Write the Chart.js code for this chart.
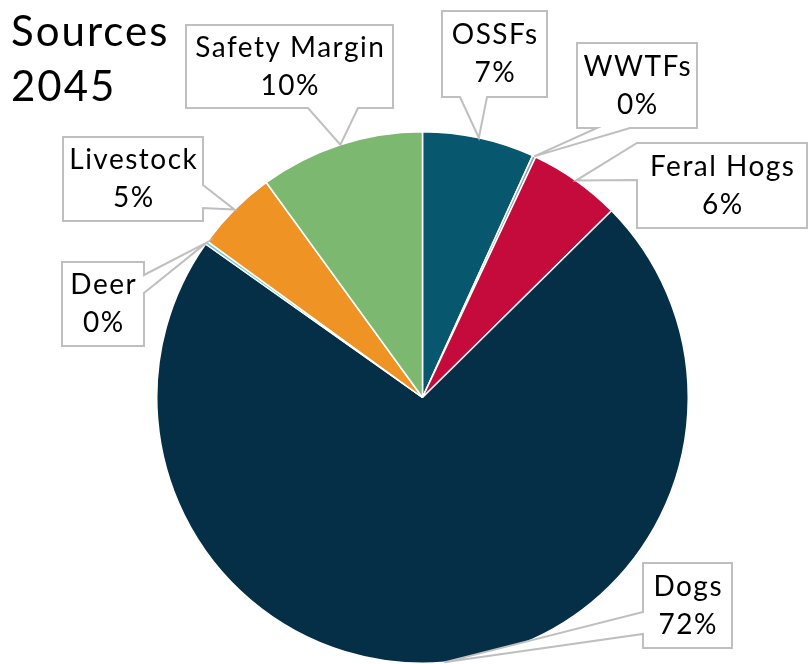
<!DOCTYPE html>
<html>
<head>
<meta charset="utf-8">
<title>Sources 2045</title>
<script src="https://cdn.jsdelivr.net/npm/chart.js@4.4.1/dist/chart.umd.min.js"></script>
<style>
    html, body { margin: 0; padding: 0; background: #ffffff; }
    #wrap { position: relative; width: 809px; height: 664px; }
</style>
</head>
<body>
<div id="wrap"><canvas id="sourcesChart" width="809" height="664"></canvas></div>
<script>
// Source shares for 2045 (percent of total load)
const sourceLabels = ['OSSFs', 'WWTFs', 'Feral Hogs', 'Dogs', 'Deer', 'Livestock', 'Safety Margin'];
const sourceShares = [6.8, 0.2, 5.6, 72.2, 0.2, 5.0, 10.0];
const sourceColors = ['#07576f', '#8fa3ad', '#c40b3b', '#042f47', '#6fcfd3', '#ee9324', '#7cb86f'];

// Callout boxes: box rect plus the side and span where the pointer leaves it
const callouts = [
    { x: 442, y: 11,  w: 105, h: 86, side: 'bottom', a: 460, b: 487 }, // OSSFs
    { x: 577, y: 43,  w: 120, h: 85, side: 'bottom', a: 597, b: 630 }, // WWTFs
    { x: 637, y: 143, w: 170, h: 85, side: 'left',   a: 143, b: 180 }, // Feral Hogs
    { x: 643, y: 563, w: 89,  h: 85, side: 'left',   a: 612, b: 634 }, // Dogs
    { x: 62,  y: 262, w: 82,  h: 84, side: 'right',  a: 275, b: 293 }, // Deer
    { x: 63,  y: 137, w: 140, h: 84, side: 'right',  a: 185, b: 208 }, // Livestock
    { x: 186, y: 25,  w: 207, h: 83, side: 'bottom', a: 308, b: 358 }  // Safety Margin
];

const FONT = 'Lato, "Open Sans", sans-serif';

function calloutPath(ctx, box, tip) {
    const { x, y, w, h, side, a, b } = box;
    ctx.beginPath();
    ctx.moveTo(x, y);
    ctx.lineTo(x + w, y);
    if (side === 'right') {
        ctx.lineTo(x + w, a);
        ctx.lineTo(tip.x, tip.y);
        ctx.lineTo(x + w, b);
    }
    ctx.lineTo(x + w, y + h);
    if (side === 'bottom') {
        ctx.lineTo(b, y + h);
        ctx.lineTo(tip.x, tip.y);
        ctx.lineTo(a, y + h);
    }
    ctx.lineTo(x, y + h);
    if (side === 'left') {
        ctx.lineTo(x, b);
        ctx.lineTo(tip.x, tip.y);
        ctx.lineTo(x, a);
    }
    ctx.closePath();
}

// centred text with letter spacing (trailing gap removed)
function spacedText(ctx, text, cx, cy, spacing) {
    ctx.letterSpacing = spacing + 'px';
    ctx.fillText(text, cx + spacing / 2, cy);
}

// Draws title and the wedge callouts pointing at each slice
const calloutPlugin = {
    id: 'calloutLabels',
    afterDraw(chart) {
        const ctx = chart.ctx;
        const meta = chart.getDatasetMeta(0);
        const values = chart.data.datasets[0].data;

        ctx.save();
        ctx.fillStyle = '#000000';
        ctx.font = '42px ' + FONT;
        ctx.textAlign = 'left';
        ctx.textBaseline = 'middle';
        ctx.letterSpacing = '2px';
        ctx.fillText('Sources', 11, 32);
        ctx.fillText('2045', 11, 87);

        meta.data.forEach(function(arc, i) {
            const box = callouts[i];
            const p = arc.getProps(['x', 'y', 'startAngle', 'endAngle', 'outerRadius'], true);
            const mid = (p.startAngle + p.endAngle) / 2;
            const tip = {
                x: p.x + Math.cos(mid) * p.outerRadius,
                y: p.y + Math.sin(mid) * p.outerRadius
            };
            calloutPath(ctx, box, tip);
            ctx.fillStyle = '#ffffff';
            ctx.fill();
            ctx.lineWidth = 2;
            ctx.strokeStyle = '#bfbfbf';
            ctx.lineJoin = 'miter';
            ctx.stroke();

            const cx = box.x + box.w / 2;
            const cy = box.y + box.h / 2;
            ctx.fillStyle = '#000000';
            ctx.font = '28px ' + FONT;
            ctx.textAlign = 'center';
            ctx.textBaseline = 'middle';
            spacedText(ctx, chart.data.labels[i], cx, cy - 19, 1.5);
            spacedText(ctx, Math.round(values[i]) + '%', cx, cy + 19, 1.5);
        });
        ctx.restore();
    }
};

document.addEventListener('DOMContentLoaded', function() {
    const canvas = document.getElementById('sourcesChart');
    new Chart(canvas.getContext('2d'), {
        type: 'pie',
        data: {
            labels: sourceLabels,
            datasets: [{
                data: sourceShares,
                backgroundColor: sourceColors,
                borderColor: '#ffffff',
                borderWidth: 1.5
            }]
        },
        options: {
            responsive: false,
            animation: false,
            layout: {
                padding: { left: 156, right: 120, top: 131, bottom: 0 }
            },
            plugins: {
                legend: { display: false },
                tooltip: { enabled: false }
            }
        },
        plugins: [calloutPlugin]
    });
});
</script>
</body>
</html>
